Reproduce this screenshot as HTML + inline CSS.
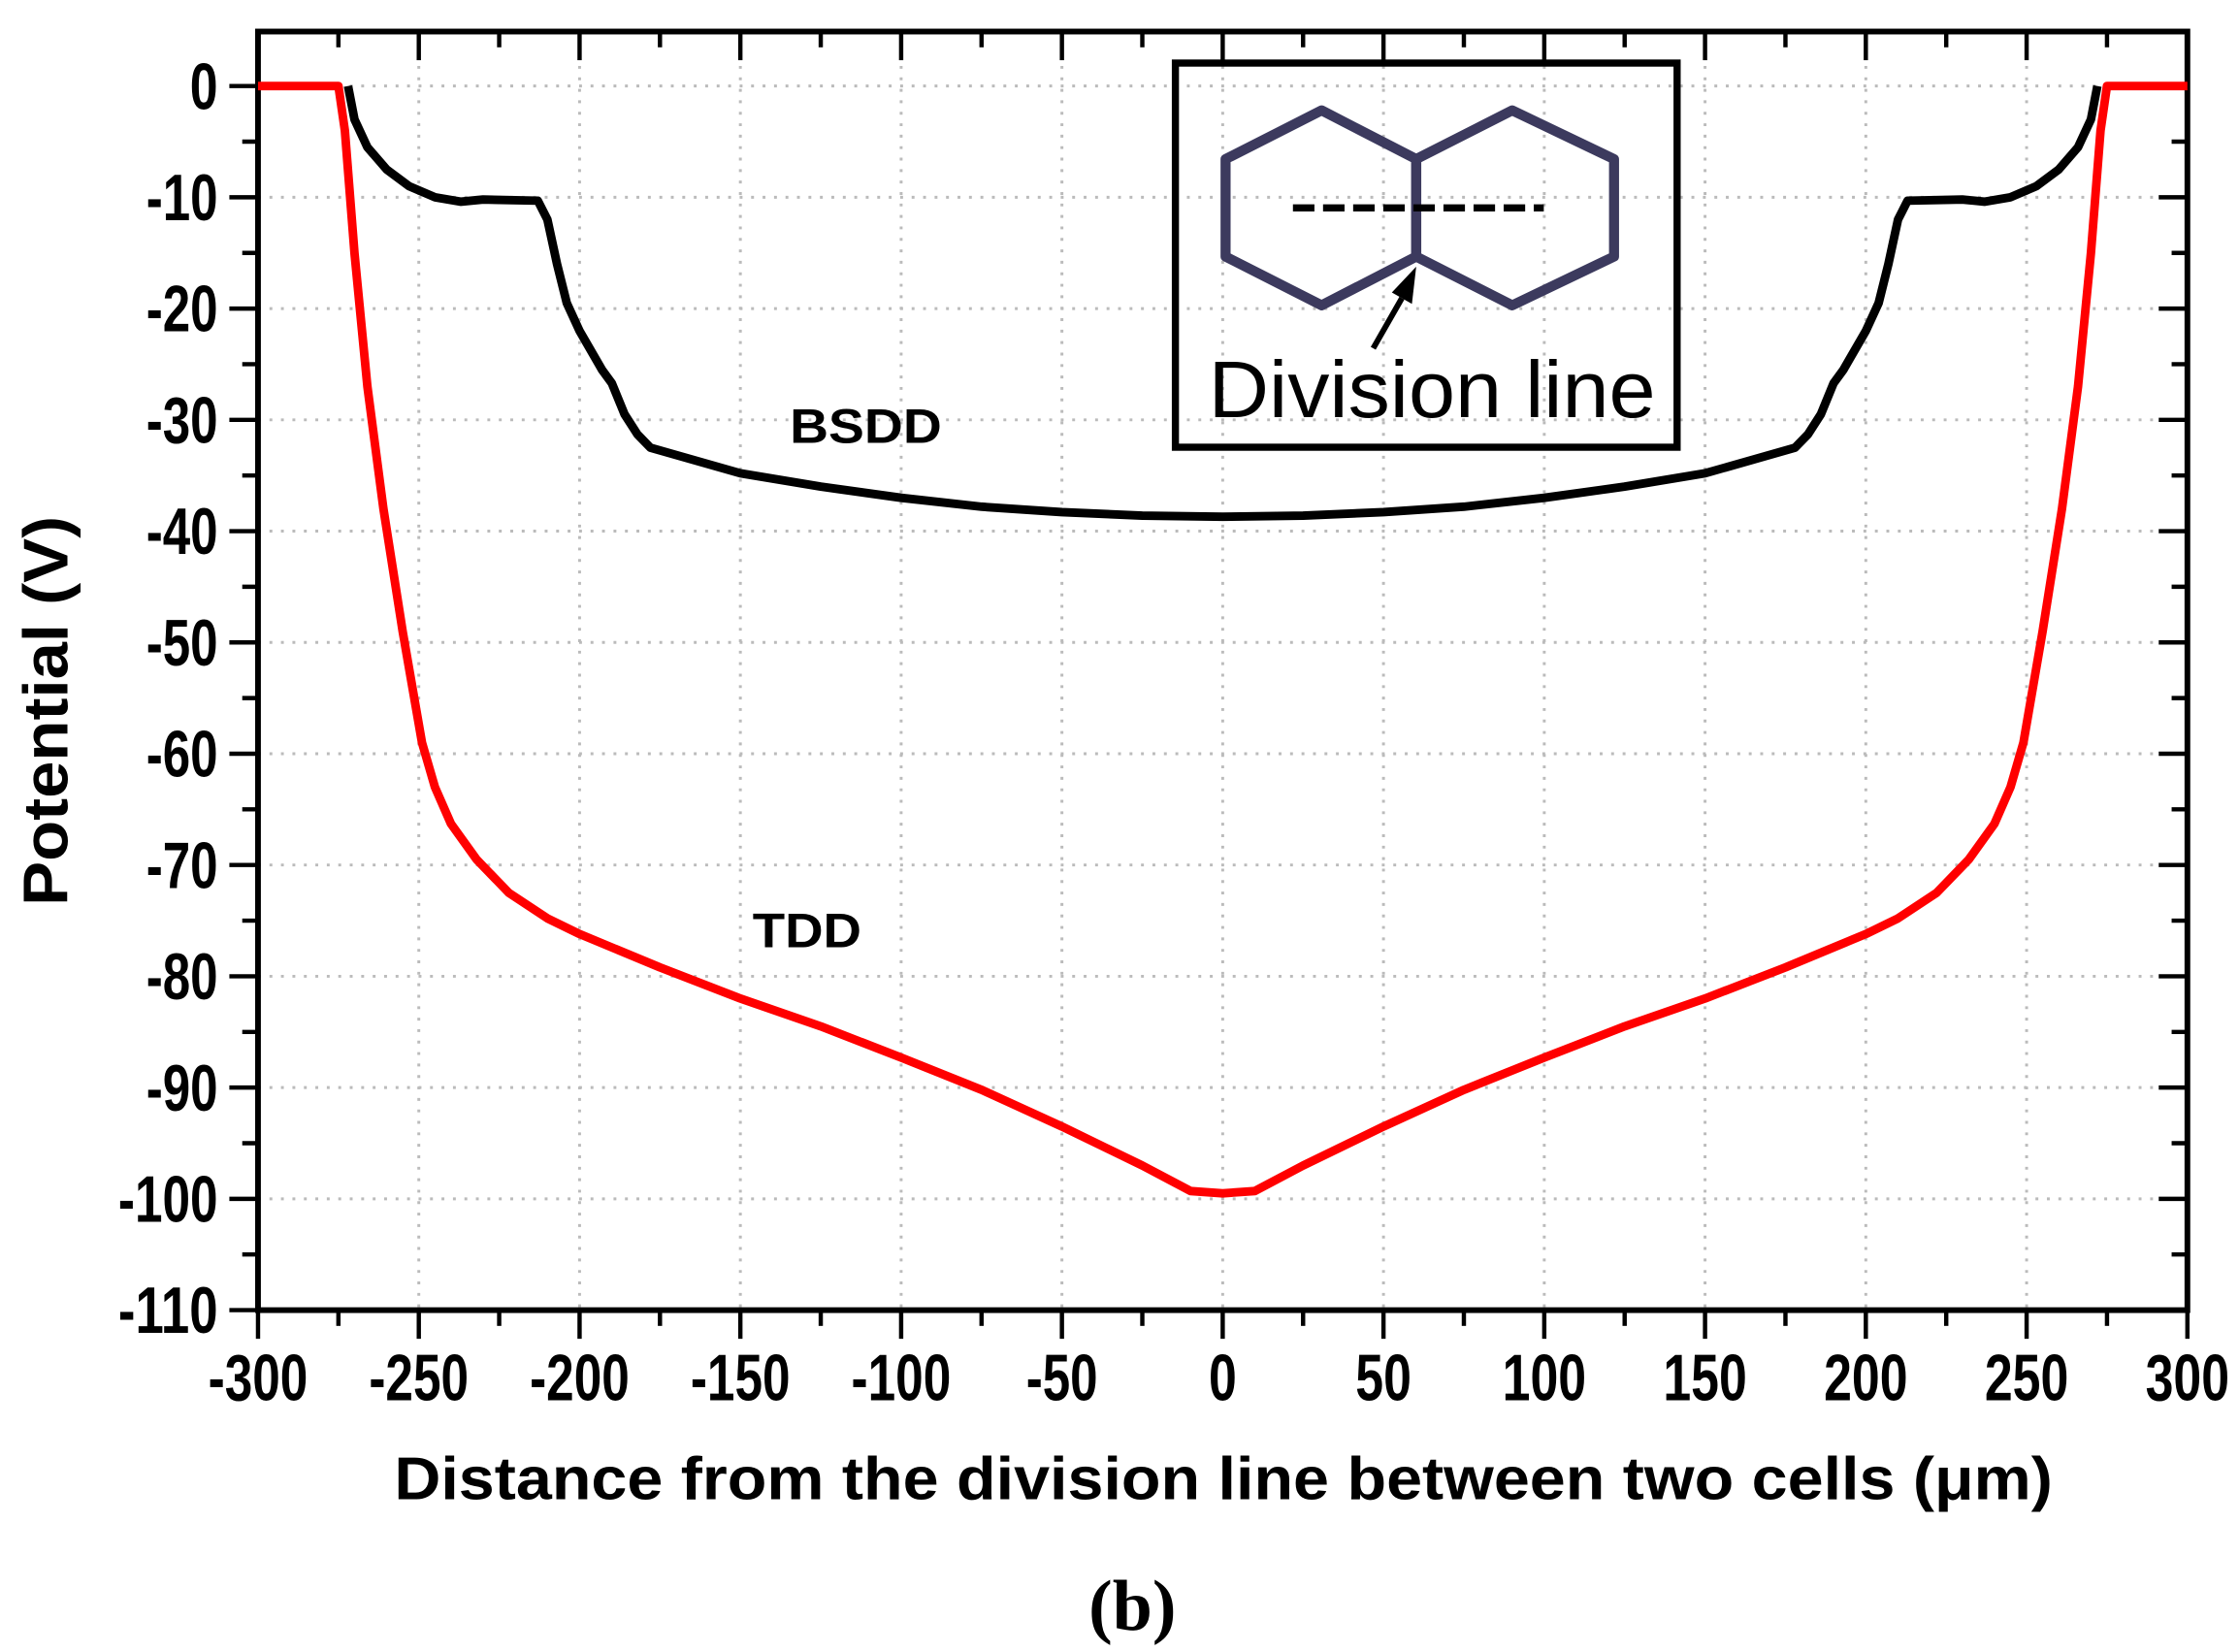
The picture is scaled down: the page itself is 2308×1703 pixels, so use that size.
<!DOCTYPE html>
<html><head><meta charset="utf-8">
<style>html,body{margin:0;padding:0;background:#fff;}svg{display:block;}</style>
</head><body>
<svg id="s" width="2308" height="1703" viewBox="0 0 1562 1152.5" preserveAspectRatio="none" xmlns="http://www.w3.org/2000/svg" font-family="'Liberation Sans',sans-serif"></svg>
<script>
const s=document.getElementById('s');
const X=v=>180+(v+300)*1346/600, Y=V=>60-V*(854/110);
const tl=t=>{let w=0;for(const c of String(t))w+=(c=='-'?11:19.5);return w;};
let h='';
for(let v=-250;v<300;v+=50){h+=`<line x1="${X(v)}" y1="22" x2="${X(v)}" y2="914" stroke="#bbb" stroke-width="2" stroke-dasharray="2,6"/>`;}
for(let V=0;V>=-100;V-=10){h+=`<line x1="180" y1="${Y(V)}" x2="1526" y2="${Y(V)}" stroke="#bbb" stroke-width="2" stroke-dasharray="2,6"/>`;}
for(let v=-300;v<=300;v+=25){const maj=v%50==0;const x=X(v);
 h+=`<line x1="${x}" y1="914" x2="${x}" y2="${914+(maj?20:11)}" stroke="#000" stroke-width="3"/>`;
 h+=`<line x1="${x}" y1="22" x2="${x}" y2="${22+(maj?20:11)}" stroke="#000" stroke-width="3"/>`;
 if(maj){const w=tl(v);h+=`<text x="${x-w/2}" y="977" font-size="46" font-weight="bold" textLength="${w}" lengthAdjust="spacingAndGlyphs">${v}</text>`;}}
for(let V=0;V>=-110;V-=5){const maj=V%10==0;const y=Y(V);
 h+=`<line x1="180" y1="${y}" x2="${180-(maj?20:11)}" y2="${y}" stroke="#000" stroke-width="3"/>`;
 h+=`<line x1="1526" y1="${y}" x2="${1526-(maj?20:11)}" y2="${y}" stroke="#000" stroke-width="3"/>`;
 if(maj){const w=tl(V);h+=`<text x="${152-w}" y="${y+16}" font-size="46" font-weight="bold" textLength="${w}" lengthAdjust="spacingAndGlyphs">${V}</text>`;}}
h+=`<rect x="180" y="22" width="1346" height="892" fill="none" stroke="#000" stroke-width="4"/>`;
h+=`<rect x="820" y="44" width="350" height="268" fill="none" stroke="#000" stroke-width="5"/>`;
const hc='#3c3a5e';
h+=`<polygon points="922,77 988,111 988,179 922,213 855,179 855,111" fill="none" stroke="${hc}" stroke-width="7" stroke-linejoin="round"/>`;
h+=`<polygon points="1055,77 1126,111 1126,179 1055,213 988,179 988,111" fill="none" stroke="${hc}" stroke-width="7" stroke-linejoin="round"/>`;
h+=`<line x1="902" y1="145" x2="1077" y2="145" stroke="#000" stroke-width="5" stroke-dasharray="15,6"/>`;
h+=`<line x1="958" y1="243" x2="978" y2="208" stroke="#000" stroke-width="4"/><polygon points="988,186 971,204 985,212" fill="#000"/>`;
h+=`<text x="843" y="291" font-size="56" textLength="312" lengthAdjust="spacingAndGlyphs">Division line</text>`;
function path(pts){const a=pts.concat(pts.slice().reverse().map(p=>[-p[0],p[1]]));return a.map((p,i)=>(i?'L':'M')+X(p[0]).toFixed(1)+','+Y(p[1]).toFixed(1)).join(' ');}
const b=[[-272,0],[-270,-3],[-266,-5.5],[-260,-7.5],[-253,-9],[-245,-10],[-237,-10.4],[-230,-10.2],[-213,-10.3],[-210,-12],[-207,-16],[-204,-19.5],[-200,-22],[-193,-25.5],[-190,-26.7],[-186,-29.5],[-182,-31.3],[-178,-32.5],[-150,-34.8],[-125,-36],[-100,-37],[-75,-37.8],[-50,-38.3],[-25,-38.6],[0,-38.7]];
h+=`<path d="${path(b)}" fill="none" stroke="#000" stroke-width="6" stroke-linejoin="round"/>`;
const r=[[-300,0],[-275,0],[-273,-4],[-270,-15],[-266,-27],[-261,-38],[-255,-49],[-249,-59],[-245,-63],[-240,-66.3],[-232,-69.5],[-222,-72.5],[-210,-74.8],[-200,-76.2],[-175,-79.2],[-150,-82],[-125,-84.5],[-100,-87.3],[-75,-90.2],[-50,-93.5],[-25,-97],[-10,-99.3],[0,-99.5]];
h+=`<path d="${path(r)}" fill="none" stroke="#f00" stroke-width="6" stroke-linejoin="round"/>`;
h+=`<text x="551" y="309" font-size="34" font-weight="bold" textLength="106" lengthAdjust="spacingAndGlyphs">BSDD</text>`;
h+=`<text x="525" y="661" font-size="34" font-weight="bold" textLength="76" lengthAdjust="spacingAndGlyphs">TDD</text>`;
h+=`<text transform="translate(47,496) rotate(-90)" x="-136" font-size="44" font-weight="bold" textLength="272" lengthAdjust="spacingAndGlyphs">Potential (V)</text>`;
h+=`<text x="275" y="1046" font-size="42" font-weight="bold" textLength="1157" lengthAdjust="spacingAndGlyphs">Distance from the division line between two cells (μm)</text>`;
h+=`<text x="790" y="1137" font-size="50" font-weight="bold" text-anchor="middle" font-family="'Liberation Serif',serif">(b)</text>`;
s.innerHTML=h;
</script>
</body></html>
